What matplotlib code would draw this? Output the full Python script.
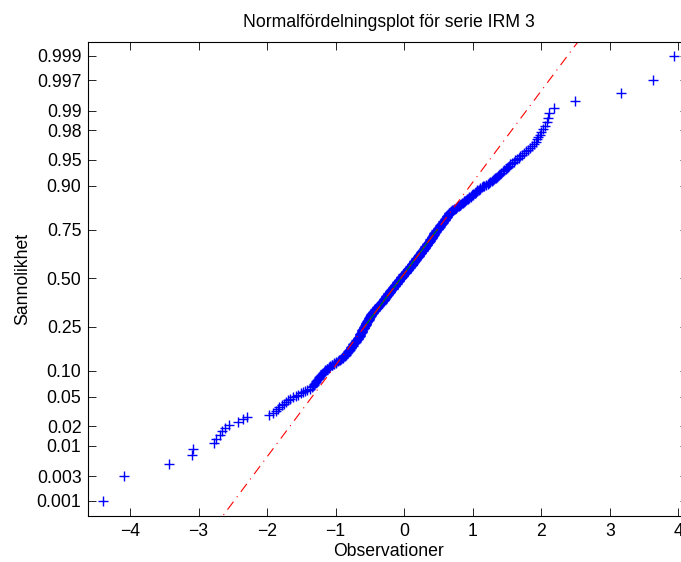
""" Normal probability plot, serie IRM 3 """

from statistics import NormalDist
import numpy as np
import matplotlib
matplotlib.use("Agg")
import matplotlib.pyplot as plt


observations = [
    -4.40, -4.09, -3.43, -3.09, -3.08, -2.77, -2.74, -2.69, -2.66, -2.61,
    -2.55, -2.42, -2.35, -2.29, -1.97, -1.91, -1.87, -1.84, -1.82, -1.79,
    -1.76, -1.72, -1.69, -1.66, -1.62, -1.58, -1.55, -1.51, -1.48, -1.45,
    -1.42, -1.38, -1.34, -1.33, -1.32, -1.31, -1.30, -1.29, -1.28, -1.27,
    -1.26, -1.25, -1.24, -1.23, -1.22, -1.20, -1.19, -1.18, -1.17, -1.16,
    -1.15, -1.13, -1.12, -1.10, -1.09, -1.08, -1.06, -1.05, -1.03, -1.02,
    -1.00, -0.99, -0.97, -0.95, -0.93, -0.92, -0.90, -0.89, -0.89, -0.88,
    -0.87, -0.86, -0.85, -0.85, -0.84, -0.83, -0.82, -0.82, -0.81, -0.80,
    -0.79, -0.79, -0.78, -0.78, -0.77, -0.77, -0.76, -0.75, -0.75, -0.74,
    -0.74, -0.73, -0.72, -0.72, -0.71, -0.71, -0.70, -0.70, -0.69, -0.68,
    -0.68, -0.67, -0.67, -0.66, -0.66, -0.65, -0.65, -0.65, -0.64, -0.64,
    -0.64, -0.63, -0.63, -0.62, -0.62, -0.62, -0.61, -0.61, -0.61, -0.60,
    -0.60, -0.59, -0.59, -0.58, -0.58, -0.58, -0.57, -0.57, -0.57, -0.56,
    -0.56, -0.56, -0.55, -0.55, -0.55, -0.54, -0.54, -0.54, -0.53, -0.53,
    -0.53, -0.52, -0.52, -0.52, -0.51, -0.51, -0.51, -0.50, -0.50, -0.50,
    -0.49, -0.49, -0.49, -0.48, -0.48, -0.47, -0.47, -0.46, -0.46, -0.45,
    -0.45, -0.44, -0.44, -0.43, -0.43, -0.42, -0.42, -0.41, -0.41, -0.40,
    -0.40, -0.39, -0.39, -0.38, -0.38, -0.37, -0.37, -0.36, -0.36, -0.35,
    -0.35, -0.34, -0.34, -0.33, -0.33, -0.32, -0.32, -0.31, -0.31, -0.30,
    -0.30, -0.30, -0.29, -0.29, -0.28, -0.28, -0.28, -0.27, -0.27, -0.26,
    -0.26, -0.26, -0.25, -0.25, -0.24, -0.24, -0.24, -0.23, -0.23, -0.22,
    -0.22, -0.21, -0.21, -0.21, -0.20, -0.20, -0.19, -0.19, -0.19, -0.18,
    -0.18, -0.17, -0.17, -0.17, -0.16, -0.16, -0.15, -0.15, -0.14, -0.14,
    -0.14, -0.13, -0.13, -0.12, -0.12, -0.11, -0.11, -0.10, -0.10, -0.10,
    -0.09, -0.09, -0.08, -0.08, -0.07, -0.07, -0.07, -0.06, -0.06, -0.05,
    -0.05, -0.04, -0.04, -0.04, -0.03, -0.03, -0.02, -0.02, -0.01, -0.01,
    -0.01, 0.00, 0.00, 0.01, 0.01, 0.02, 0.02, 0.03, 0.03, 0.03,
    0.04, 0.04, 0.05, 0.05, 0.06, 0.06, 0.06, 0.07, 0.07, 0.08,
    0.08, 0.09, 0.09, 0.10, 0.10, 0.11, 0.11, 0.11, 0.12, 0.12,
    0.13, 0.13, 0.13, 0.14, 0.14, 0.15, 0.15, 0.15, 0.16, 0.16,
    0.17, 0.17, 0.18, 0.18, 0.18, 0.19, 0.19, 0.20, 0.20, 0.20,
    0.21, 0.21, 0.22, 0.22, 0.22, 0.23, 0.23, 0.24, 0.24, 0.25,
    0.25, 0.25, 0.26, 0.26, 0.27, 0.27, 0.28, 0.28, 0.29, 0.29,
    0.29, 0.30, 0.30, 0.31, 0.31, 0.31, 0.32, 0.32, 0.33, 0.33,
    0.34, 0.34, 0.34, 0.35, 0.35, 0.36, 0.36, 0.36, 0.37, 0.37,
    0.38, 0.38, 0.38, 0.39, 0.39, 0.40, 0.40, 0.40, 0.41, 0.41,
    0.42, 0.42, 0.42, 0.43, 0.43, 0.44, 0.44, 0.44, 0.45, 0.45,
    0.46, 0.46, 0.46, 0.47, 0.48, 0.49, 0.49, 0.50, 0.50, 0.51,
    0.51, 0.52, 0.52, 0.53, 0.53, 0.54, 0.54, 0.55, 0.55, 0.56,
    0.56, 0.57, 0.57, 0.58, 0.59, 0.59, 0.60, 0.60, 0.61, 0.61,
    0.62, 0.62, 0.63, 0.63, 0.64, 0.64, 0.65, 0.65, 0.66, 0.66,
    0.67, 0.68, 0.69, 0.70, 0.71, 0.73, 0.74, 0.75, 0.76, 0.77,
    0.79, 0.80, 0.81, 0.82, 0.83, 0.85, 0.86, 0.87, 0.88, 0.89,
    0.90, 0.92, 0.93, 0.94, 0.95, 0.97, 0.98, 0.99, 1.00, 1.01,
    1.03, 1.04, 1.05, 1.06, 1.07, 1.09, 1.10, 1.11, 1.13, 1.15,
    1.17, 1.19, 1.22, 1.24, 1.26, 1.28, 1.30, 1.31, 1.33, 1.34,
    1.36, 1.37, 1.39, 1.40, 1.42, 1.44, 1.45, 1.48, 1.50, 1.52,
    1.53, 1.55, 1.57, 1.60, 1.62, 1.65, 1.67, 1.69, 1.72, 1.75,
    1.78, 1.81, 1.84, 1.87, 1.90, 1.92, 1.94, 1.96, 1.98, 2.00,
    2.02, 2.05, 2.08, 2.10, 2.12, 2.19, 2.49, 3.16, 3.63, 3.94,
]

prob_ticks = [0.001, 0.003, 0.01, 0.02, 0.05, 0.10, 0.25, 0.50,
              0.75, 0.90, 0.95, 0.98, 0.99, 0.997, 0.999]
prob_labels = ["0.001", "0.003", "0.01", "0.02", "0.05", "0.10", "0.25", "0.50",
               "0.75", "0.90", "0.95", "0.98", "0.99", "0.997", "0.999"]
x_ticks = [-4, -3, -2, -1, 0, 1, 2, 3, 4]

title = "Normalfördelningsplot för serie IRM 3"
xlabel = "Observationer"
ylabel = "Sannolikhet"


nd = NormalDist()
x = np.sort(np.asarray(observations))
n = len(x)
# plotting positions (i - 0.5)/n on the normal scale
z = np.array([nd.inv_cdf((i - 0.5) / n) for i in range(1, n + 1)])

# reference line through the quartiles
q1, q3 = np.percentile(x, [25, 75])
z1, z3 = nd.inv_cdf(0.25), nd.inv_cdf(0.75)
slope = (z3 - z1) / (q3 - q1)
xr = np.array([x[0], x[-1]])
zr = z1 + slope * (xr - q1)

plt.rcParams['font.family'] = ['Liberation Sans', 'DejaVu Sans']
fs = 12.7

fig = plt.figure(figsize=(6.81, 5.62), dpi=100)
ax = fig.add_axes([88.4 / 681, 46 / 562, 600 / 681, 474 / 562])

ax.plot(x, z, '+', color='b', markersize=7.9, markeredgewidth=1.0)
ax.plot([q1, q3], [z1, z3], '-', color=(0, 0.5, 0), linewidth=0.8)
ax.plot(xr, zr, color='r', linewidth=0.8, linestyle=(0, (9, 5, 1, 5)))

dx = 0.025 * (x[-1] - x[0])
ax.set_xlim(x[0] - dx, x[-1] + dx)
ax.set_ylim(-3.30, 3.28)

ax.set_xticks(x_ticks)
ax.set_xticklabels(["\u2212" + str(-t) if t < 0 else str(t) for t in x_ticks])
ax.set_yticks([nd.inv_cdf(p) for p in prob_ticks])
ax.set_yticklabels(prob_labels)

ax.tick_params(direction='in', length=6, width=0.6, labelsize=fs,
               top=True, right=True, pad=5)
for s in ax.spines.values():
    s.set_linewidth(0.8)

ax.set_title(title, fontsize=fs, pad=11)
ax.set_xlabel(xlabel, fontsize=fs, labelpad=2)
ax.set_ylabel(ylabel, fontsize=fs, labelpad=4)

fig.savefig("out.png", dpi=100)
